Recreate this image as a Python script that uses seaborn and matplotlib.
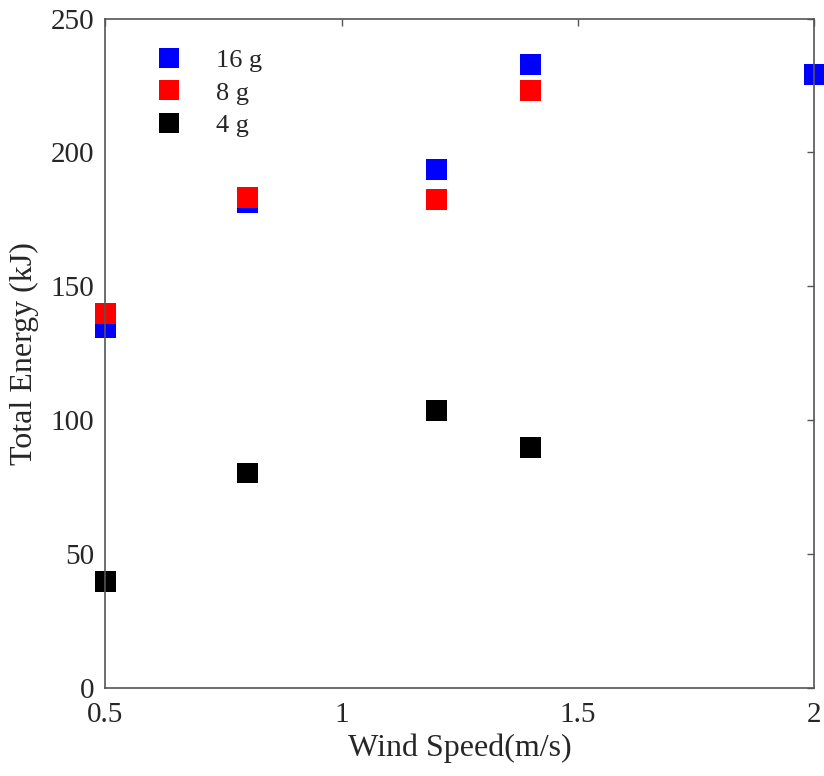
import matplotlib
matplotlib.use("Agg")
import matplotlib.pyplot as plt
import seaborn as sns
import pandas as pd

wind_16 = [0.5, 0.8, 1.2, 1.4, 2.0]
energy_16 = [134.7, 181.2, 193.8, 233.0, 229.0]
wind_8 = [0.5, 0.8, 1.2, 1.4]
energy_8 = [139.9, 183.1, 182.4, 223.0]
wind_4 = [0.5, 0.8, 1.2, 1.4]
energy_4 = [39.6, 80.3, 103.5, 89.7]
series_labels = ["16 g", "8 g", "4 g"]
series_colors = ["#0000ff", "#ff0000", "#000000"]

df = pd.concat([
    pd.DataFrame({"wind": wind_16, "energy": energy_16, "mass": series_labels[0]}),
    pd.DataFrame({"wind": wind_8, "energy": energy_8, "mass": series_labels[1]}),
    pd.DataFrame({"wind": wind_4, "energy": energy_4, "mass": series_labels[2]}),
])

sns.set_style("white")
plt.rcParams["font.family"] = ["Liberation Serif", "DejaVu Serif"]

fig = plt.figure(figsize=(8.24, 7.76), dpi=100)
ax = fig.add_axes([0.128, 0.1134, 0.860, 0.8626])

sns.scatterplot(data=df, x="wind", y="energy", hue="mass", hue_order=series_labels,
                palette=series_colors, marker="s", s=228, linewidth=0, ax=ax,
                clip_on=False, legend=True)

ax.set_xlim(0.5, 2.0)
ax.set_ylim(0, 250)
ax.set_xticks([0.5, 1.0, 1.5, 2.0])
ax.set_xticklabels(["0.5", "1", "1.5", "2"])
ax.set_yticks([0, 50, 100, 150, 200, 250])
ax.tick_params(direction="in", length=5, width=1, colors="#555555", labelcolor="#262626",
               labelsize=21, top=True, right=True)
ax.tick_params(axis="x", pad=10)
ax.tick_params(axis="y", pad=8)
for sp in ax.spines.values():
    sp.set_visible(True)
    sp.set_color("#555555")
    sp.set_linewidth(1.2)

ax.set_xlabel("Wind Speed(m/s)", fontsize=23, color="#262626", labelpad=4)
ax.set_ylabel("Total Energy (kJ)", fontsize=23, color="#262626", labelpad=8)

handles, labels = ax.get_legend_handles_labels()
ax.legend(handles, labels, loc="upper left", bbox_to_anchor=(0.0195, 0.991), frameon=False,
          fontsize=19, handletextpad=0.75, labelspacing=0.35, markerscale=1.0)

fig.savefig("out.png", dpi=100)
